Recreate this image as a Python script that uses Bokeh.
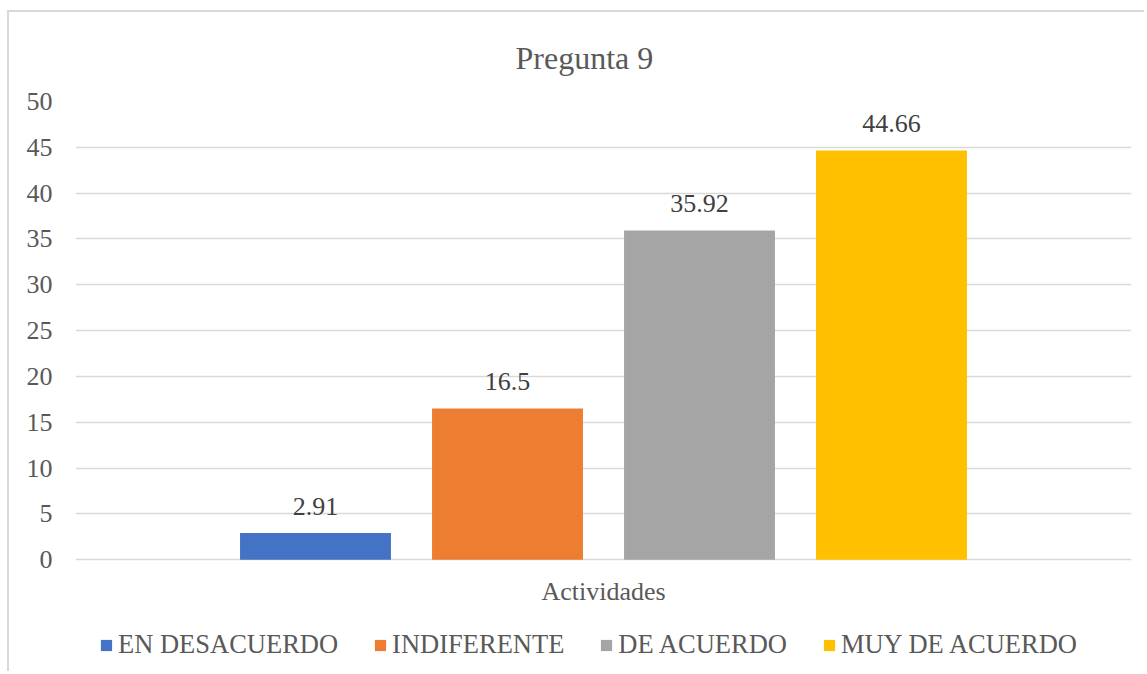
from bokeh.plotting import figure
from bokeh.models import ColumnDataSource, Range1d, FixedTicker, Legend, LegendItem
from bokeh.embed import file_html
from bokeh.resources import INLINE
from bokeh.core.properties import value

title_text = "Pregunta 9"
category = "Actividades"
series = ["EN DESACUERDO", "INDIFERENTE", "DE ACUERDO", "MUY DE ACUERDO"]
values = [2.91, 16.5, 35.92, 44.66]
value_labels = ["2.91", "16.5", "35.92", "44.66"]
colors = ["#4472C4", "#ED7D31", "#A5A5A5", "#FFC000"]
y_ticks = [0, 5, 10, 15, 20, 25, 30, 35, 40, 45, 50]

FONT = "Liberation Serif"
GRID = "#d9d9d9"
TXT = "#595959"

# layout: plot frame runs from the top gridline down to the bottom of the chart box,
# so that the category label and legend (drawn below the zero line) stay inside it
Y_MAX = 50
PX_ZERO, PX_TOP, PX_BOTTOM = 559, 100, 673
Y_MIN = -Y_MAX * (PX_BOTTOM - PX_ZERO) / (PX_ZERO - PX_TOP)

src = ColumnDataSource(dict(x=list(range(len(series))), top=values,
                            color=colors, label=value_labels, name=series))
cat_src = ColumnDataSource(dict(x=[sum(range(len(series))) / len(series)], y=[0], label=[category]))

p = figure(width=1137, height=661, output_backend="svg", toolbar_location=None,
           x_axis_location=None,
           x_range=Range1d(-1.25, len(series) + 0.25), y_range=Range1d(Y_MIN, Y_MAX),
           min_border_left=66, min_border_right=15, min_border_top=88, min_border_bottom=0,
           margin=(10, 0, 0, 7),
           styles={"border-left": f"2px solid {GRID}", "border-top": f"2px solid {GRID}"})
p.outline_line_color = None
p.background_fill_color = "white"
p.border_fill_color = "white"

p.title.text = title_text
p.title.align = "left"
p.title.offset = 440
p.title.text_font = FONT
p.title.text_font_size = "32px"
p.title.text_font_style = "normal"
p.title.text_color = TXT
p.title.standoff = 51

r = p.vbar(x="x", top="top", bottom=0, width=0.786, color="color", source=src, line_color=None)

p.text(x="x", y="top", text="label", source=src, text_align="center", text_baseline="alphabetic",
       y_offset=-27, text_font=value(FONT), text_font_size="26px", text_color="#404040")

p.text(x="x", y="y", text="label", source=cat_src, text_align="center", text_baseline="alphabetic",
       y_offset=32, text_font=value(FONT), text_font_size="26px", text_color=TXT)

p.yaxis.ticker = FixedTicker(ticks=y_ticks)
p.yaxis.axis_line_color = None
p.yaxis.major_tick_line_color = None
p.yaxis.major_tick_out = 0
p.yaxis.major_tick_in = 0
p.yaxis.minor_tick_line_color = None
p.yaxis.major_label_text_font = FONT
p.yaxis.major_label_text_font_size = "26px"
p.yaxis.major_label_text_color = TXT
p.yaxis.major_label_standoff = 23

p.xgrid.visible = False
p.ygrid.ticker = FixedTicker(ticks=y_ticks)
p.ygrid.grid_line_color = GRID
p.ygrid.grid_line_width = 1.5

legend = Legend(items=[LegendItem(label=s, renderers=[r], index=i) for i, s in enumerate(series)],
                orientation="horizontal", location=(24, 13),
                label_text_font=FONT, label_text_font_size="26.5px", label_text_color=TXT,
                glyph_width=14, glyph_height=14, label_standoff=5, spacing=35,
                padding=0, margin=0, border_line_color=None, background_fill_alpha=0)
p.add_layout(legend)

open("out.html", "w").write(file_html(p, INLINE))
